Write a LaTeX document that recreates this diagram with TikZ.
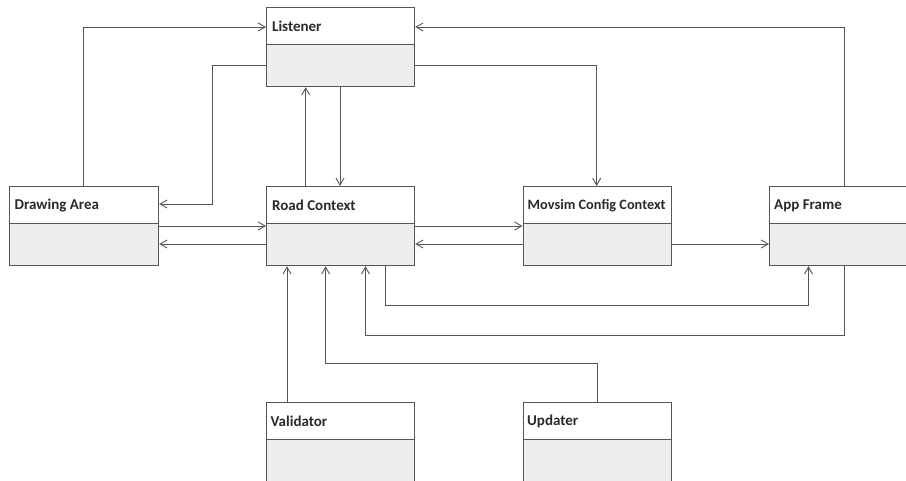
\documentclass[tikz,border=0pt]{standalone}
\usepackage{fontspec}
\setmainfont{Carlito}
\usetikzlibrary{arrows.meta}
\definecolor{edgegray}{HTML}{555555}
\definecolor{bodyfill}{HTML}{EEEEEE}
\definecolor{txt}{HTML}{2A2A2A}
\begin{document}
\begin{tikzpicture}[x=1pt,y=-1pt,
  body/.style={draw=edgegray,line width=1.2pt,fill=bodyfill,anchor=north west,minimum width=148pt,minimum height=79pt,inner sep=0pt},
  head/.style={draw=edgegray,line width=1.2pt,fill=white,anchor=north west,minimum width=148pt,inner sep=0pt,minimum height=37pt},
  lbl/.style={anchor=west,inner sep=0pt,font=\bfseries\fontsize{15}{17}\selectfont,text=txt},
  conn/.style={draw=edgegray,line width=0.9pt,-{Straight Barb[length=7pt,width=8pt]}}]
\clip (0,0) rectangle (906,481);
\fill[white] (0,0) rectangle (906,481);
% classes
\node[body] (L) at (266,7) {};
\node[head] (Lh) at (L.north west) {};
\node[lbl] (Lt) at ([xshift=6pt,yshift=-0.5pt]Lh.west) {Listener};
\node[body,minimum width=149pt] (DA) at (9,186) {};
\node[head,minimum width=149pt] (DAh) at (DA.north west) {};
\node[lbl] (DAt) at ([xshift=5.5pt,yshift=-0.5pt]DAh.west) {Drawing Area};
\node[body] (RC) at (266,186) {};
\node[head] (RCh) at (RC.north west) {};
\node[lbl] (RCt) at ([xshift=6pt,yshift=-0.5pt]RCh.west) {Road Context};
\node[body] (MC) at (522.5,186) {};
\node[head] (MCh) at (MC.north west) {};
\node[lbl,font=\bfseries\fontsize{14.3}{17}\selectfont] (MCt) at ([xshift=5pt,yshift=-0.5pt]MCh.west) {Movsim Config Context};
\node[body] (AF) at (769,186) {};
\node[head] (AFh) at (AF.north west) {};
\node[lbl] (AFt) at ([xshift=5pt,yshift=-0.5pt]AFh.west) {App Frame};
\node[body,minimum height=85pt] (V) at (266,402) {};
\node[head] (Vh) at (V.north west) {};
\node[lbl] (Vt) at ([xshift=4.5pt,yshift=-0.5pt]Vh.west) {Validator};
\node[body,minimum height=85pt] (U) at (522.5,402) {};
\node[head] (Uh) at (U.north west) {};
\node[lbl] (Ut) at ([xshift=4.5pt,yshift=-0.5pt]Uh.west) {Updater};
% connectors
\draw[conn] (DA.north -| 83,0) |- (L.west |- 0,27);
\draw[conn] (L.west |- 0,65.7) -| (212,204) -- (DA.east |- 0,204);
\draw[conn] (RC.north -| 305.7,0) -- (L.south -| 305.7,0);
\draw[conn] (L.south -| 340,0) -- (RC.north -| 340,0);
\draw[conn] (DA.east |- 0,226) -- (RC.west |- 0,226);
\draw[conn] (RC.west |- 0,244) -- (DA.east |- 0,244);
\draw[conn] (RC.east |- 0,226) -- (MC.west |- 0,226);
\draw[conn] (MC.west |- 0,244) -- (RC.east |- 0,244);
\draw[conn] (MC.east |- 0,244) -- (AF.west |- 0,244);
\draw[conn] (L.east |- 0,65.7) -| (MC.north -| 596.7,0);
\draw[conn] (AF.north -| 844,0) |- (L.east |- 0,27);
\draw[conn] (V.north -| 287,0) -- (RC.south -| 287,0);
\draw[conn] (U.north -| 597,0) |- (325.6,363) -- (RC.south -| 325.6,0);
\draw[conn] (AF.south -| 844,0) |- (365.5,335) -- (RC.south -| 365.5,0);
\draw[conn] (RC.south -| 385,0) |- (808.5,305) -- (AF.south -| 808.5,0);
\end{tikzpicture}
\end{document}
